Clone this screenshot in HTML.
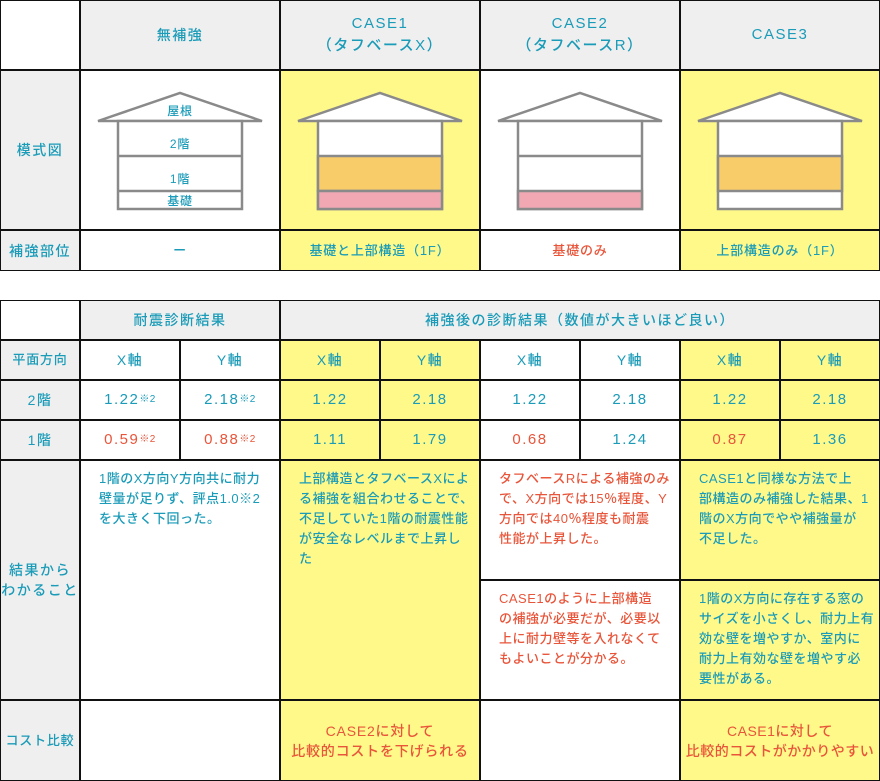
<!DOCTYPE html>
<html><head><meta charset="utf-8"><style>
*{margin:0;padding:0;box-sizing:border-box}
body{width:880px;height:781px;background:#fff;position:relative;overflow:hidden;font-family:"Liberation Sans","Noto Sans CJK JP",sans-serif;font-size:13px;color:#1a9bb8;letter-spacing:0.8px;font-weight:500}
.t{position:absolute;background:#111}
.c{position:absolute;background:#fff;display:flex;align-items:center;justify-content:center;text-align:center;line-height:20px}
.g{background:#efefef}
.y{background:#fff98a}
.r{color:#e8553a}
.p{align-items:flex-start;justify-content:flex-start;text-align:left;padding:8px 0 0 18px;line-height:20px;letter-spacing:0.5px}
.h{font-size:14px;letter-spacing:1.5px}
.hh{font-size:15px;letter-spacing:1.5px;line-height:22px}
sup{font-size:10px;vertical-align:3px;letter-spacing:0.5px}
.n{font-size:15px;letter-spacing:1.5px}
</style></head><body>
<div class="t" style="left:0;top:0;width:880px;height:271px"></div>
<div class="c" style="left:1px;top:1px;width:78px;height:68px"></div>
<div class="c g h" style="left:81px;top:1px;width:198px;height:68px">無補強</div>
<div class="c g hh" style="left:281px;top:1px;width:198px;height:68px">CASE1<br>（タフベースX）</div>
<div class="c g hh" style="left:481px;top:1px;width:198px;height:68px">CASE2<br>（タフベースR）</div>
<div class="c g hh" style="left:681px;top:1px;width:198px;height:68px">CASE3</div>
<div class="c g h" style="left:1px;top:71px;width:78px;height:158px">模式図</div>
<div class="c" style="left:81px;top:71px;width:198px;height:158px"></div>
<div class="c y" style="left:281px;top:71px;width:198px;height:158px"></div>
<div class="c" style="left:481px;top:71px;width:198px;height:158px"></div>
<div class="c y" style="left:681px;top:71px;width:198px;height:158px"></div>
<div class="c g h" style="left:1px;top:231px;width:78px;height:39px">補強部位</div>
<div class="c" style="left:81px;top:231px;width:198px;height:39px">ー</div>
<div class="c y" style="left:281px;top:231px;width:198px;height:39px">基礎と上部構造（1F）</div>
<div class="c r" style="left:481px;top:231px;width:198px;height:39px">基礎のみ</div>
<div class="c y" style="left:681px;top:231px;width:198px;height:39px">上部構造のみ（1F）</div>
<svg style="position:absolute;left:0;top:0" width="880" height="271">
<g stroke="#8a8a8a" stroke-width="2.5" fill="#fff">
<polygon points="98,121 180,93 262,121"/><rect x="118" y="121" width="124" height="88"/><line x1="118" y1="156" x2="242" y2="156"/><line x1="118" y1="191" x2="242" y2="191"/>
<polygon points="298,121 380,93 462,121"/><rect x="318" y="121" width="124" height="88"/><rect x="318" y="156" width="124" height="35" fill="#f9cc6a"/><rect x="318" y="191" width="124" height="18" fill="#f2a8b2"/>
<polygon points="498,121 580,93 662,121"/><rect x="518" y="121" width="124" height="88"/><line x1="518" y1="156" x2="642" y2="156"/><rect x="518" y="191" width="124" height="18" fill="#f2a8b2"/>
<polygon points="698,121 780,93 862,121"/><rect x="718" y="121" width="124" height="88"/><rect x="718" y="156" width="124" height="35" fill="#f9cc6a"/>
</g>
<g fill="#1a9bb8" font-size="12" text-anchor="middle" font-family="Liberation Sans, Noto Sans CJK JP, sans-serif">
<text x="180" y="115">屋根</text><text x="180" y="148">2階</text><text x="180" y="183">1階</text><text x="180" y="205">基礎</text>
</g>
</svg>
<div class="t" style="left:0;top:300px;width:880px;height:481px"></div>
<div class="c" style="left:1px;top:301px;width:78px;height:38px"></div>
<div class="c g h" style="left:81px;top:301px;width:198px;height:38px">耐震診断結果</div>
<div class="c g h" style="left:281px;top:301px;width:598px;height:38px">補強後の診断結果（数値が大きいほど良い）</div>
<div class="c g" style="left:1px;top:341px;width:78px;height:38px">平面方向</div>
<div class="c g h" style="left:1px;top:381px;width:78px;height:38px">2階</div>
<div class="c g h" style="left:1px;top:421px;width:78px;height:38px">1階</div>
<div class="c g h" style="left:1px;top:461px;width:78px;height:238px">結果から<br>わかること</div>
<div class="c g" style="left:1px;top:701px;width:78px;height:79px">コスト比較</div>

<div class="c h" style="left:81px;top:341px;width:98px;height:38px">X軸</div>
<div class="c h" style="left:181px;top:341px;width:98px;height:38px">Y軸</div>
<div class="c y h" style="left:281px;top:341px;width:98px;height:38px">X軸</div>
<div class="c y h" style="left:381px;top:341px;width:98px;height:38px">Y軸</div>
<div class="c h" style="left:481px;top:341px;width:98px;height:38px">X軸</div>
<div class="c h" style="left:581px;top:341px;width:98px;height:38px">Y軸</div>
<div class="c y h" style="left:681px;top:341px;width:98px;height:38px">X軸</div>
<div class="c y h" style="left:781px;top:341px;width:98px;height:38px">Y軸</div>

<div class="c n" style="left:81px;top:381px;width:98px;height:38px">1.22<sup>※2</sup></div>
<div class="c n" style="left:181px;top:381px;width:98px;height:38px">2.18<sup>※2</sup></div>
<div class="c y n" style="left:281px;top:381px;width:98px;height:38px">1.22</div>
<div class="c y n" style="left:381px;top:381px;width:98px;height:38px">2.18</div>
<div class="c n" style="left:481px;top:381px;width:98px;height:38px">1.22</div>
<div class="c n" style="left:581px;top:381px;width:98px;height:38px">2.18</div>
<div class="c y n" style="left:681px;top:381px;width:98px;height:38px">1.22</div>
<div class="c y n" style="left:781px;top:381px;width:98px;height:38px">2.18</div>

<div class="c n r" style="left:81px;top:421px;width:98px;height:38px">0.59<sup>※2</sup></div>
<div class="c n r" style="left:181px;top:421px;width:98px;height:38px">0.88<sup>※2</sup></div>
<div class="c y n" style="left:281px;top:421px;width:98px;height:38px">1.11</div>
<div class="c y n" style="left:381px;top:421px;width:98px;height:38px">1.79</div>
<div class="c n r" style="left:481px;top:421px;width:98px;height:38px">0.68</div>
<div class="c n" style="left:581px;top:421px;width:98px;height:38px">1.24</div>
<div class="c y n r" style="left:681px;top:421px;width:98px;height:38px">0.87</div>
<div class="c y n" style="left:781px;top:421px;width:98px;height:38px">1.36</div>

<div class="c p" style="left:81px;top:461px;width:198px;height:238px">1階のX方向Y方向共に耐力<br>壁量が足りず、評点1.0※2<br>を大きく下回った。</div>
<div class="c y p" style="left:281px;top:461px;width:198px;height:238px">上部構造とタフベースXによ<br>る補強を組合わせることで、<br>不足していた1階の耐震性能<br>が安全なレベルまで上昇し<br>た</div>
<div class="c p r" style="left:481px;top:461px;width:198px;height:118px">タフベースRによる補強のみ<br>で、X方向では15％程度、Y<br>方向では40％程度も耐震<br>性能が上昇した。</div>
<div class="c y p" style="left:681px;top:461px;width:198px;height:118px">CASE1と同様な方法で上<br>部構造のみ補強した結果、1<br>階のX方向でやや補強量が<br>不足した。</div>
<div class="c p r" style="left:481px;top:581px;width:198px;height:118px">CASE1のように上部構造<br>の補強が必要だが、必要以<br>上に耐力壁等を入れなくて<br>もよいことが分かる。</div>
<div class="c y p" style="left:681px;top:581px;width:198px;height:118px">1階のX方向に存在する窓の<br>サイズを小さくし、耐力上有<br>効な壁を増やすか、室内に<br>耐力上有効な壁を増やす必<br>要性がある。</div>

<div class="c" style="left:81px;top:701px;width:198px;height:79px"></div>
<div class="c y r h" style="left:281px;top:701px;width:198px;height:79px;letter-spacing:0.8px">CASE2に対して<br>比較的コストを下げられる</div>
<div class="c" style="left:481px;top:701px;width:198px;height:79px"></div>
<div class="c y r h" style="left:681px;top:701px;width:198px;height:79px;letter-spacing:0.5px">CASE1に対して<br>比較的コストがかかりやすい</div>
</body></html>
